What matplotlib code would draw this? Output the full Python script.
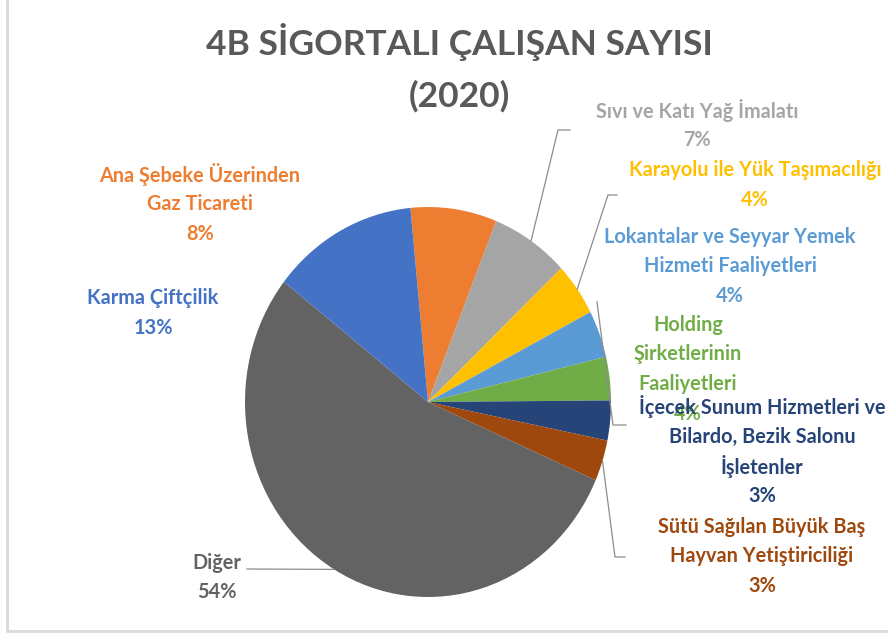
import matplotlib
matplotlib.use("Agg")
import matplotlib.pyplot as plt
import numpy as np
from matplotlib.lines import Line2D

W, H = 888, 637

categories = [
    "Ana Şebeke Üzerinden\nGaz Ticareti",
    "Sıvı ve Katı Yağ İmalatı",
    "Karayolu ile Yük Taşımacılığı",
    "Lokantalar ve Seyyar Yemek\nHizmeti Faaliyetleri",
    "Holding\nŞirketlerinin\nFaaliyetleri",
    "İçecek Sunum Hizmetleri ve\nBilardo, Bezik Salonu\nİşletenler",
    "Sütü Sağılan Büyük Baş\nHayvan Yetiştiriciliği",
    "Diğer",
    "Karma Çiftçilik",
]
shares = [7.6, 6.9, 4.4, 3.9, 3.6, 3.3, 3.4, 54.0, 12.9]
colors = ["#ED7D31", "#A5A5A5", "#FFC000", "#5B9BD5", "#70AD47",
          "#264478", "#9E480E", "#636363", "#4472C4"]

# label anchor (center x, first line center y) in pixels from top-left
label_xy = [(200, 175), (697, 110), (755, 170), (730, 237), (688, 325),
            (762, 407), (762, 527), (217, 563), (153, 298)]

FONT = "Lato"


def fx(px):
    return px / W


def fy(py):
    return 1 - py / H


fig = plt.figure(figsize=(W / 100, H / 100), dpi=100)
fig.patch.set_facecolor("white")

# pie: elliptical, as in the stretched original
cx, cy, rx, ry = 428, 402, 183, 195
ax = fig.add_axes([fx(cx - rx), fy(cy + ry), 2 * rx / W, 2 * ry / H])
wedges, _ = ax.pie(shares, colors=colors, startangle=95.5, counterclock=False,
                   radius=1, wedgeprops=dict(linewidth=0))
ax.set_aspect("auto")
ax.set_xlim(-1, 1)
ax.set_ylim(-1, 1)
ax.axis("off")

fig.text(fx(459), fy(42), "4B SİGORTALI ÇALIŞAN SAYISI", ha="center", va="center",
         fontsize=25.5, fontweight="bold", color="#595959", family=FONT)
fig.text(fx(459), fy(96), "(2020)", ha="center", va="center",
         fontsize=25.5, fontweight="bold", color="#595959", family=FONT)

for name, val, col, (lx, ly) in zip(categories, shares, colors, label_xy):
    lines = name.split("\n") + [f"{round(val)}%"]
    for i, ln in enumerate(lines):
        fig.text(fx(lx), fy(ly + i * 29.5), ln, ha="center", va="center",
                 fontsize=14.3, fontweight="bold", color=col, family=FONT)


def edge_point(w):
    mid = np.deg2rad((w.theta1 + w.theta2) / 2)
    disp = ax.transData.transform((np.cos(mid), np.sin(mid)))
    return fig.transFigure.inverted().transform(disp)


lead_col = "#8C8C8C"
# leader lines: slice edge -> bend -> short tick
leaders = {1: [(558, 130), (570, 130)], 2: [(608, 195), (617, 195)],
           6: [(615, 557), (625, 557)], 7: [(247, 569)]}
for idx, pts in leaders.items():
    sx, sy = edge_point(wedges[idx])
    xs = [sx] + [fx(p[0]) for p in pts]
    ys = [sy] + [fy(p[1]) for p in pts]
    fig.add_artist(Line2D(xs, ys, color=lead_col, lw=0.9))
fig.add_artist(Line2D([fx(597), fx(613), fx(626)], [fy(302), fy(425), fy(425)],
                      color=lead_col, lw=0.9))

# chart area frame (left and bottom edges visible)
fig.add_artist(Line2D([fx(7), fx(7), fx(W)], [fy(0), fy(631), fy(631)],
                      color="#D9D9D9", lw=2))

fig.savefig("out.png", dpi=100, facecolor="white")
